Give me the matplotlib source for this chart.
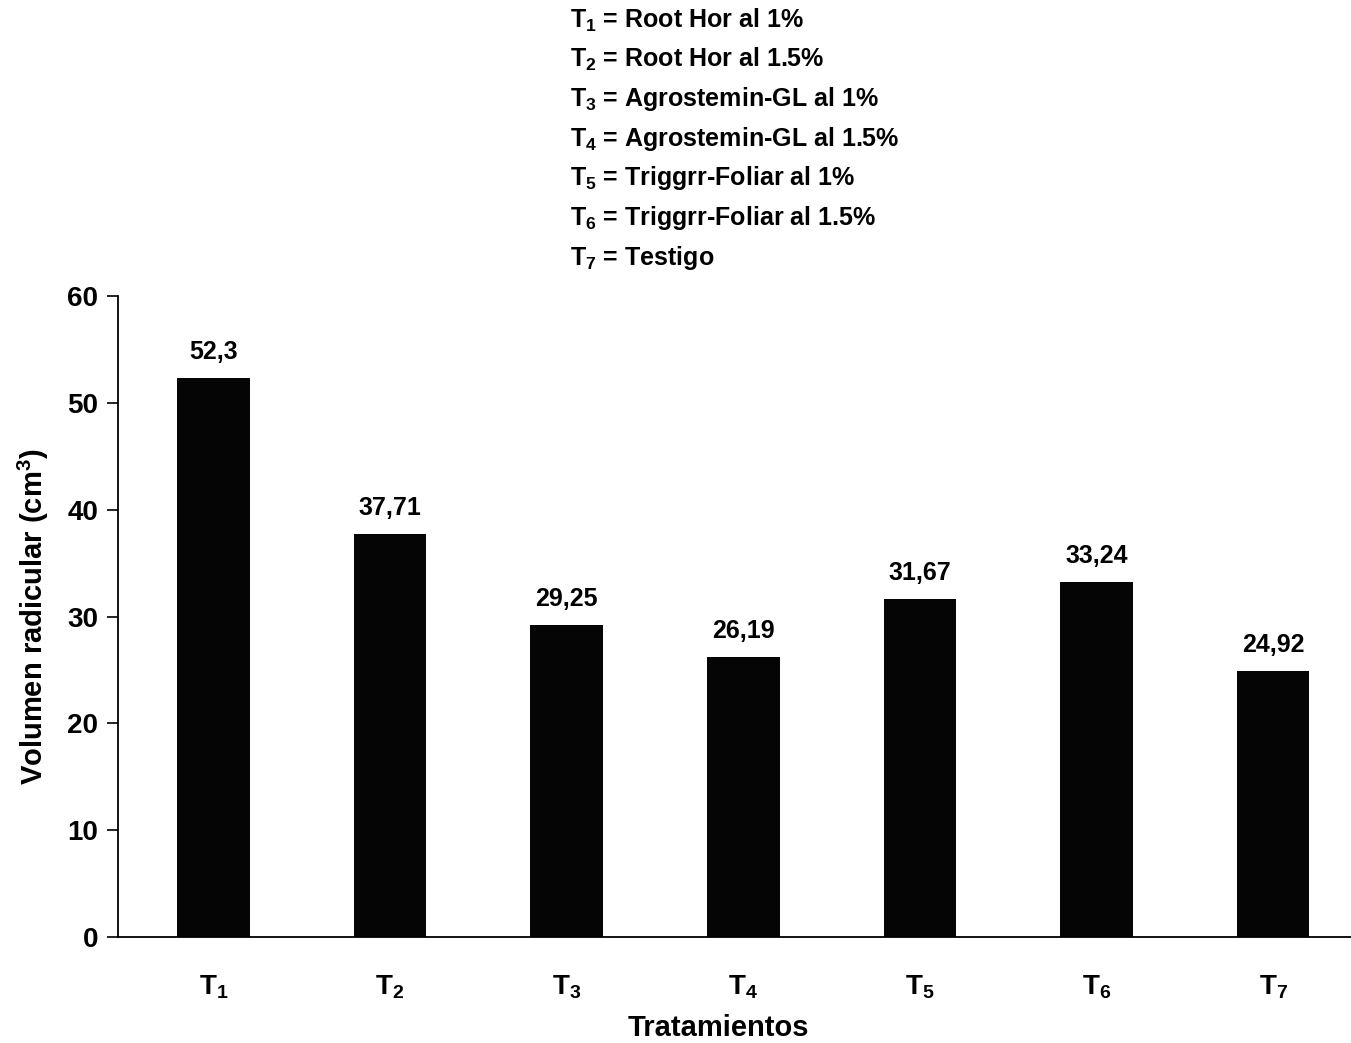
import matplotlib
matplotlib.use("Agg")
import matplotlib.pyplot as plt

plt.rcParams['font.family'] = ['Liberation Sans', 'DejaVu Sans']
plt.rcParams['mathtext.fontset'] = 'custom'
plt.rcParams['mathtext.rm'] = 'Liberation Sans:bold'
plt.rcParams['mathtext.bf'] = 'Liberation Sans:bold'
plt.rcParams['mathtext.it'] = 'Liberation Sans:bold'

# Treatments and root volume values
tratamientos = ['1', '2', '3', '4', '5', '6', '7']
volumen = [52.3, 37.71, 29.25, 26.19, 31.67, 33.24, 24.92]
etiquetas = ['52,3', '37,71', '29,25', '26,19', '31,67', '33,24', '24,92']
descripciones = ['Root Hor al 1%', 'Root Hor al 1.5%', 'Agrostemin-GL al 1%',
                 'Agrostemin-GL al 1.5%', 'Triggrr-Foliar al 1%',
                 'Triggrr-Foliar al 1.5%', 'Testigo']

fig = plt.figure(figsize=(13.51, 10.43), dpi=100)
ax = fig.add_axes([0.0873, 0.1016, 0.9127, 0.6146])

x = list(range(len(volumen)))
ax.bar(x, volumen, width=0.41, color='#050505', zorder=2)

for xi, v, lab in zip(x, volumen, etiquetas):
    ax.annotate(lab, (xi, v), xytext=(0, 10), textcoords='offset points',
                ha='center', va='bottom', fontsize=18, fontweight='bold')

ax.set_xlim(-0.54, 6.44)
ax.set_ylim(0, 60)
ax.set_yticks(range(0, 61, 10))
ax.tick_params(axis='y', labelsize=20, length=8, width=1.2, pad=6)
for t in ax.get_yticklabels():
    t.set_fontweight('bold')
ax.set_xticks(x)
ax.set_xticklabels([rf'$\mathbf{{T}}_{{\mathbf{{{t}}}}}$' for t in tratamientos],
                   fontsize=20)
ax.tick_params(axis='x', length=0, pad=26)

ax.spines['top'].set_visible(False)
ax.spines['right'].set_visible(False)
ax.spines['left'].set_linewidth(1.3)
ax.spines['bottom'].set_linewidth(1.3)

ax.set_ylabel(r'Volumen radicular (cm$^{\mathbf{3}}$)', fontsize=21,
              fontweight='bold', labelpad=12)
ax.set_xlabel('Tratamientos', fontsize=21, fontweight='bold')
ax.xaxis.set_label_coords((718 - 118) / 1233, -0.12)

# Treatment key above the plot
for i, (t, d) in enumerate(zip(tratamientos, descripciones)):
    y = 1 - (20 + i * 39.6) / 1043
    fig.text(570 / 1351, y, rf'$\mathbf{{T}}_{{\mathbf{{{t}}}}}$ = {d}',
             fontsize=18, fontweight='bold', va='center', ha='left')

fig.savefig('out.png', dpi=100)
